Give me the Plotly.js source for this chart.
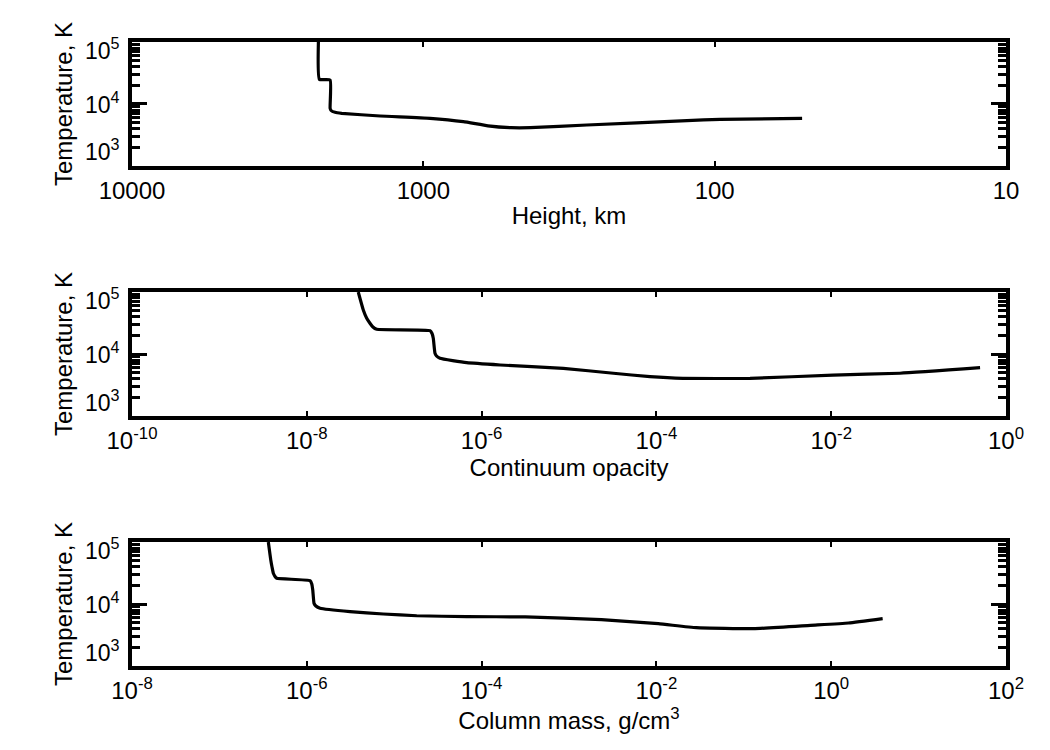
<!DOCTYPE html>
<html>
<head>
<meta charset="utf-8">
<script src="https://cdn.plot.ly/plotly-3.0.1.min.js"></script>
<style>html,body{margin:0;padding:0;background:#fff;}#chart{width:1050px;height:750px;}</style>
</head>
<body>
<div id="chart"></div>
<script>
// Panel 1: temperature vs height (km)
var heightKm = [2292, 2274, 2089, 2089, 2073, 2009, 1906, 1406, 948, 729, 600, 500, 430, 274.6, 124.5, 95.7, 50.1];
var tempHeight = [100000, 25000, 24400, 8530, 7850, 7340, 7080, 6400, 5870, 5190, 4450, 4150, 4150, 4580, 5380, 5660, 5870];

// Panel 2: temperature vs continuum opacity
var opacity = [3.88e-8, 4.43e-8, 4.83e-8, 5.28e-8, 5.71e-8, 6.31e-8, 2.57e-7, 2.71e-7, 2.80e-7, 2.93e-7, 3.05e-7, 3.34e-7, 6.76e-7, 1.63e-6, 8.61e-6, 3.22e-5, 8.45e-5, 2.01e-4, 1.18e-3, 1.05e-2, 6.12e-2, 0.505];
var tempOpacity = [100000, 51300, 38100, 31300, 27200, 25000, 23800, 21400, 17900, 10250, 9290, 8530, 7240, 6650, 5870, 4890, 4310, 4050, 4050, 4580, 4890, 6010];

// Panel 3: temperature vs column mass
var columnMass = [3.63e-7, 3.87e-7, 4.0e-7, 4.14e-7, 4.33e-7, 4.53e-7, 1.09e-6, 1.14e-6, 1.17e-6, 1.21e-6, 1.27e-6, 1.42e-6, 3.12e-6, 7.50e-6, 1.81e-5, 6.76e-5, 3.16e-4, 2.35e-3, 1.05e-2, 2.87e-2, 0.129, 0.579, 1.58, 3.88];
var tempMass = [100000, 51300, 39500, 31300, 27800, 26000, 23800, 21000, 16800, 10250, 9290, 8530, 7520, 6900, 6470, 6240, 6200, 5590, 4810, 4150, 4000, 4530, 4940, 5800];

// Tick labels
var xTicks1 = [10000, 1000, 100, 10];
var xTickText1 = ["10000", "1000", "100", "10"];
var xTicks2 = [1e-10, 1e-8, 1e-6, 1e-4, 1e-2, 1];
var xTickText2 = ["10<sup>-10</sup>", "10<sup>-8</sup>", "10<sup>-6</sup>", "10<sup>-4</sup>", "10<sup>-2</sup>", "10<sup>0</sup>"];
var xTicks3 = [1e-8, 1e-6, 1e-4, 1e-2, 1, 100];
var xTickText3 = ["10<sup>-8</sup>", "10<sup>-6</sup>", "10<sup>-4</sup>", "10<sup>-2</sup>", "10<sup>0</sup>", "10<sup>2</sup>"];
var yTicks = [1000, 10000, 100000];
var yTickText = ["10<sup>3</sup>", "10<sup>4</sup>", "10<sup>5</sup>"];
var yMinorTicks = [2000, 3000, 4000, 5000, 6000, 7000, 8000, 9000, 20000, 30000, 40000, 50000, 60000, 70000, 80000, 90000];

var xTitles = ["Height, km", "Continuum opacity", "Column mass, g/cm<sup>3</sup>"];
var yTitle = "Temperature, K";

var FONT = "Liberation Sans, Arial, Helvetica, sans-serif";

var lineStyle = {color: "black", width: 3.2, shape: "spline", smoothing: 0.4};
var traces = [
  {x: heightKm, y: tempHeight, xaxis: "x", yaxis: "y", mode: "lines", line: lineStyle, hoverinfo: "x+y"},
  {x: opacity, y: tempOpacity, xaxis: "x2", yaxis: "y2", mode: "lines", line: lineStyle, hoverinfo: "x+y"},
  {x: columnMass, y: tempMass, xaxis: "x3", yaxis: "y3", mode: "lines", line: lineStyle, hoverinfo: "x+y"}
];

function xAxis(range, tv, tt, title, anchor) {
  return {
    type: "log", range: range, anchor: anchor, domain: [0, 1],
    showline: true, linecolor: "black", linewidth: 4, mirror: "allticks",
    ticks: "inside", ticklen: 5, tickwidth: 2, tickcolor: "black",
    tickvals: tv, ticktext: tt, showgrid: false, zeroline: false,
    tickfont: {family: FONT, size: 24, color: "black"},
    title: {text: title, font: {family: FONT, size: 24, color: "black"}, standoff: 5}
  };
}
function yAxis(domain, anchor) {
  return {
    type: "log", range: [3, 5], anchor: anchor, domain: domain,
    showline: true, linecolor: "black", linewidth: 4, mirror: "allticks",
    ticks: "inside", ticklen: 15, tickwidth: 3, tickcolor: "black",
    tickvals: yTicks, showticklabels: false, showgrid: false, zeroline: false,
    minor: {tickvals: yMinorTicks, ticks: "inside", ticklen: 8, tickwidth: 3, tickcolor: "black", showgrid: false},
    title: {text: yTitle, font: {family: FONT, size: 24, color: "black"}, standoff: 50}
  };
}

var doms = [[0.8013, 1.0], [0.4006, 0.5994], [0, 0.1987]];
var yLabelPos = [0.125, 0.505, 0.945];

var annotations = [];
["y", "y2", "y3"].forEach(function (ax) {
  for (var i = 0; i < yTickText.length; i++) {
    annotations.push({
      xref: "paper", yref: ax + " domain", x: -0.0115, y: yLabelPos[i],
      xanchor: "right", yanchor: "middle", showarrow: false,
      text: yTickText[i], font: {family: FONT, size: 23, color: "black"}
    });
  }
});

var layout = {
  width: 1050, height: 750,
  margin: {l: 132, r: 44, t: 42, b: 84},
  paper_bgcolor: "white", plot_bgcolor: "white",
  showlegend: false,
  xaxis: xAxis([4, 1], xTicks1, xTickText1, xTitles[0], "y"),
  xaxis2: xAxis([-10, 0], xTicks2, xTickText2, xTitles[1], "y2"),
  xaxis3: xAxis([-8, 2], xTicks3, xTickText3, xTitles[2], "y3"),
  yaxis: yAxis(doms[0], "x"),
  yaxis2: yAxis(doms[1], "x2"),
  yaxis3: yAxis(doms[2], "x3"),
  annotations: annotations
};

Plotly.newPlot("chart", traces, layout, {displayModeBar: false, staticPlot: true});
</script>
</body>
</html>
